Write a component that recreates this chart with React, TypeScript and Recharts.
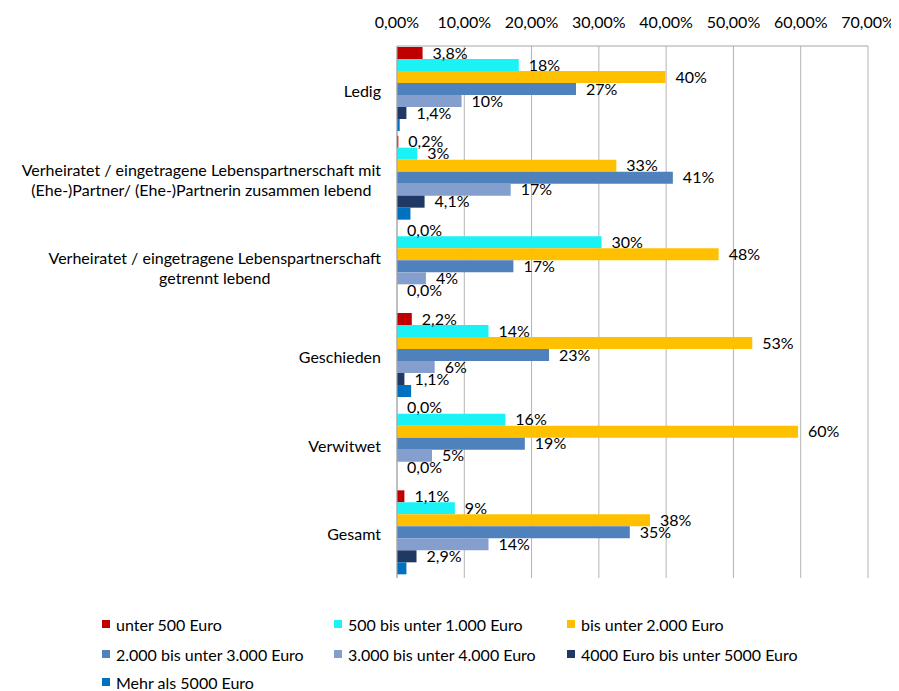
import React from "react";
import { BarChart, Bar, XAxis, YAxis, CartesianGrid, LabelList } from "recharts";

const categories = [
  "Ledig",
  "Verheiratet / eingetragene Lebenspartnerschaft mit\n(Ehe-)Partner/ (Ehe-)Partnerin zusammen lebend",
  "Verheiratet / eingetragene Lebenspartnerschaft\ngetrennt lebend",
  "Geschieden",
  "Verwitwet",
  "Gesamt",
];

const seriesNames = [
  "unter 500 Euro",
  "500 bis unter 1.000 Euro",
  "bis unter 2.000 Euro",
  "2.000 bis unter 3.000 Euro",
  "3.000 bis unter 4.000 Euro",
  "4000 Euro bis unter 5000 Euro",
  "Mehr als 5000 Euro",
];

const unter500 = [3.8, 0.2, 0.0, 2.2, 0.0, 1.1];
const bis1000 = [18.1, 3.0, 30.4, 13.6, 16.1, 8.6];
const bis2000 = [39.9, 32.6, 47.8, 52.8, 59.6, 37.6];
const bis3000 = [26.6, 41.0, 17.3, 22.6, 19.0, 34.6];
const bis4000 = [9.6, 16.9, 4.3, 5.6, 5.2, 13.6];
const bis5000 = [1.4, 4.1, 0.0, 1.1, 0.0, 2.9];
const mehr5000 = [0.4, 2.0, 0.0, 2.1, 0.0, 1.4];

const seriesValues = [unter500, bis1000, bis2000, bis3000, bis4000, bis5000, mehr5000];
const seriesColors = ["#C00000", "#1BF2F5", "#FFC000", "#4F81BD", "#849FCD", "#1F3864", "#0070C0"];
const seriesDecimals: (number | null)[] = [1, 0, 0, 0, 0, 1, null];

const xTicks = [0, 10, 20, 30, 40, 50, 60, 70];

const FONT = "Lato, 'Noto Sans', sans-serif";
const FS = 16;

const data = categories.map((name, i) => {
  const row: Record<string, any> = { name };
  seriesValues.forEach((arr, s) => {
    row["s" + s] = arr[i];
  });
  return row;
});

let canvasCtx: CanvasRenderingContext2D | null = null;
function measure(text: string, font: string) {
  if (!canvasCtx) {
    const c = document.createElement("canvas");
    canvasCtx = c.getContext("2d");
  }
  if (!canvasCtx) return text.length * 7;
  canvasCtx.font = font;
  return canvasCtx.measureText(text).width;
}

const CategoryTick = (props: any) => {
  const { y, payload } = props;
  const lines: string[] = String(payload.value).split("\n");
  const lineH = 20;
  const rightEdge = 381;
  const maxW = Math.max(...lines.map((l) => measure(l, `${FS}px Lato`)));
  const cx = rightEdge - maxW / 2;
  const startY = y - ((lines.length - 1) * lineH) / 2;
  return (
    <g>
      {lines.map((l, k) => (
        <text
          key={k}
          x={cx}
          y={startY + k * lineH}
          textAnchor="middle"
          dominantBaseline="central"
          fontSize={FS}
          fontFamily={FONT}
          fill="#000"
        >
          {l}
        </text>
      ))}
    </g>
  );
};

const fmtPct = (v: number, d: number) => v.toFixed(d).replace(".", ",") + "%";

const legendPos = [
  { x: 102, y: 624 },
  { x: 334, y: 624 },
  { x: 567, y: 624 },
  { x: 102, y: 654 },
  { x: 334, y: 654 },
  { x: 567, y: 654 },
  { x: 102, y: 682 },
];

export default function App() {
  return (
    <div style={{ position: "relative", width: 899, height: 691, marginLeft: -8, marginTop: -8, fontFamily: FONT, background: "#fff" }}>
      <BarChart
        width={899}
        height={691}
        data={data}
        layout="vertical"
        margin={{ top: 16, right: 31, bottom: 113, left: 0 }}
        barCategoryGap={1}
        barGap={0}
      >
        <CartesianGrid horizontal={false} vertical={true} stroke="#B3B3B3" strokeWidth={1} />
        <XAxis
          type="number"
          orientation="top"
          domain={[0, 70]}
          ticks={xTicks}
          interval={0}
          height={30}
          tickLine={false}
          axisLine={{ stroke: "#A6A6A6" }}
          tickMargin={12}
          tickFormatter={(v: number) => fmtPct(v, 2)}
          tick={{ fontSize: FS, fontFamily: FONT, fill: "#000" }}
        />
        <YAxis
          type="category"
          dataKey="name"
          width={397}
          tickLine={false}
          axisLine={{ stroke: "#A6A6A6" }}
          tick={<CategoryTick />}
          interval={0}
        />
        {seriesNames.map((n, s) => (
          <Bar
            key={n}
            dataKey={"s" + s}
            name={n}
            fill={seriesColors[s]}
            minPointSize={0.01}
            isAnimationActive={false}
          >
            {seriesDecimals[s] !== null && (
              <LabelList
                dataKey={"s" + s}
                position="right"
                offset={10}
                formatter={(v: any) => fmtPct(Number(v), seriesDecimals[s] as number)}
                style={{ fontSize: FS, fontFamily: FONT, fill: "#000" }}
              />
            )}
          </Bar>
        ))}
      </BarChart>
      {seriesNames.map((n, s) => (
        <div
          key={n}
          style={{
            position: "absolute",
            left: legendPos[s].x,
            top: legendPos[s].y - 10,
            height: 20,
            display: "flex",
            alignItems: "center",
            fontSize: FS,
            color: "#000",
            whiteSpace: "nowrap",
          }}
        >
          <span style={{ display: "inline-block", width: 8, height: 8, background: seriesColors[s], marginRight: 6 }} />
          <span>{n}</span>
        </div>
      ))}
    </div>
  );
}
